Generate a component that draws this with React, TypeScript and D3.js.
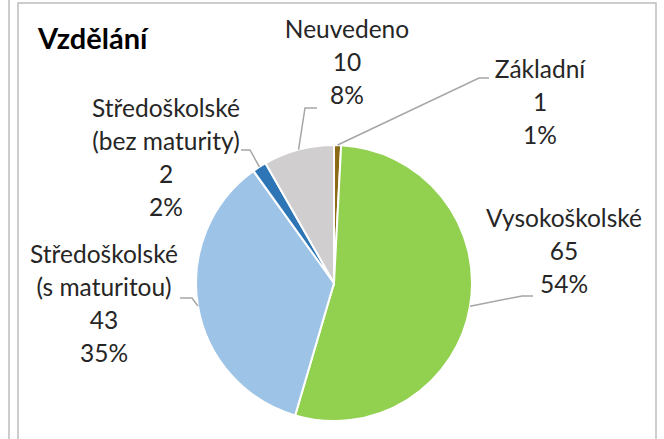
import React from "react";
import * as d3 from "d3";

const categories = [
  "Základní",
  "Vysokoškolské",
  "Středoškolské (s maturitou)",
  "Středoškolské (bez maturity)",
  "Neuvedeno",
];
const nameLines = [
  ["Základní"],
  ["Vysokoškolské"],
  ["Středoškolské", "(s maturitou)"],
  ["Středoškolské", "(bez maturity)"],
  ["Neuvedeno"],
];
const values = [1, 65, 43, 2, 10];
const percentLabels = ["1%", "54%", "35%", "2%", "8%"];
const colors = ["#8A6A14", "#92D050", "#9DC3E6", "#2E75B6", "#D0CECE"];

// layout (label placement, not data)
const labelLayout = [
  { x: 540, y: 78, sx: 489, sy: 78, ex: 479, ey: 78 },
  { x: 564, y: 227, sx: 533, sy: 296, ex: 522, ey: 296 },
  { x: 104, y: 263, sx: 180, sy: 298, ex: 192, ey: 298 },
  { x: 166, y: 117, sx: 241, sy: 150, ex: 250, ey: 150 },
  { x: 347, y: 38, sx: 317, sy: 108, ex: 305, ey: 108 },
];

const W = 664;
const H = 439;
const cx = 334;
const cy = 283;
const R = 138;
const LH = 33;
const FONT = "Lato, 'Open Sans', sans-serif";

export default function App() {
  const pie = d3.pie<number>().sort(null).value((d) => d)(values);
  const arc = d3.arc<d3.PieArcDatum<number>>().innerRadius(0).outerRadius(R);

  return (
    <svg
      width={W}
      height={H}
      style={{ position: "absolute", left: 0, top: 0, background: "#fff" }}
    >
      <line x1={9} y1={0} x2={9} y2={H} stroke="#BDBDBD" strokeWidth={1.5} />
      <path d={`M18,${H} L18,3 L656,3 L656,${H}`} fill="none" stroke="#BDBDBD" strokeWidth={1.5} />
      <text x={38} y={49} fontFamily={FONT} fontWeight="bold" fontSize={29} fill="#000">
        Vzdělání
      </text>
      <g transform={`translate(${cx},${cy})`}>
        {pie.map((p, i) => (
          <path key={categories[i]} d={arc(p) || ""} fill={colors[i]} stroke="#fff" strokeWidth={2} />
        ))}
      </g>
      {pie.map((p, i) => {
        const mid = (p.startAngle + p.endAngle) / 2;
        const px = cx + Math.sin(mid) * R;
        const py = cy - Math.cos(mid) * R;
        const L = labelLayout[i];
        return (
          <polyline
            key={"l" + i}
            points={`${L.sx},${L.sy} ${L.ex},${L.ey} ${px},${py}`}
            fill="none"
            stroke="#A6A6A6"
            strokeWidth={1.5}
          />
        );
      })}
      {nameLines.map((lines, i) => {
        const L = labelLayout[i];
        const all = [...lines, String(values[i]), percentLabels[i]];
        return (
          <text key={"t" + i} fontFamily={FONT} fontSize={24.5} fill="#262626" textAnchor="middle">
            {all.map((s, j) => (
              <tspan key={j} x={L.x} y={L.y + j * LH}>
                {s}
              </tspan>
            ))}
          </text>
        );
      })}
    </svg>
  );
}
